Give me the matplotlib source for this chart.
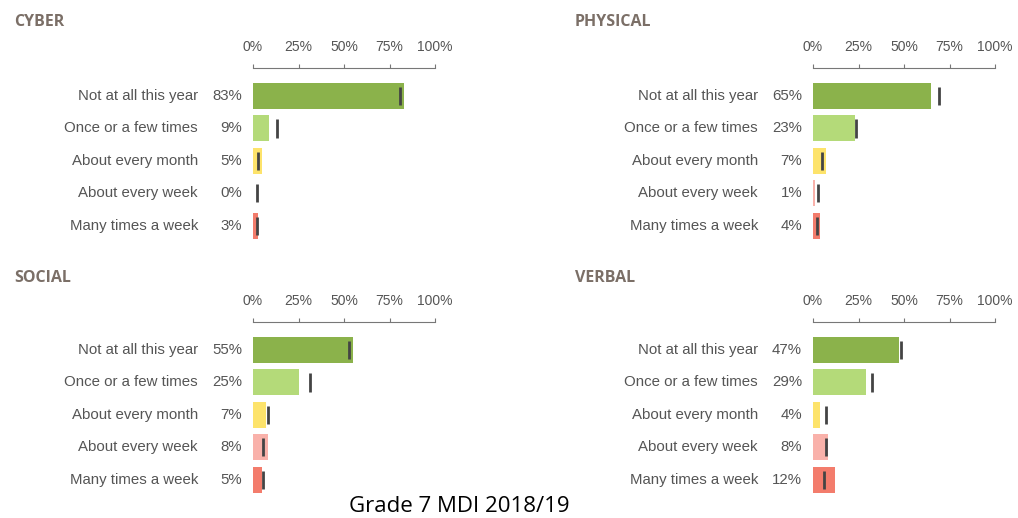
import numpy as np
import matplotlib
matplotlib.use('Agg')
import matplotlib.pyplot as plt

# Data
categories = ['Not at all this year', 'Once or a few times', 'About every month',
              'About every week', 'Many times a week']
panels = ['CYBER', 'PHYSICAL', 'SOCIAL', 'VERBAL']
cyber = [83, 9, 5, 0, 3]
physical = [65, 23, 7, 1, 4]
social = [55, 25, 7, 8, 5]
verbal = [47, 29, 4, 8, 12]
# comparison markers (black ticks)
cyber_cmp = [81, 13, 3, 2, 2]
physical_cmp = [69, 23.5, 5, 3, 2]
social_cmp = [52.5, 31.5, 8.5, 5.5, 5.5]
verbal_cmp = [48.5, 32.5, 7, 7, 6]
ticks = [0, 25, 50, 75, 100]
tick_labels = ['0%', '25%', '50%', '75%', '100%']

values = [cyber, physical, social, verbal]
compare = [cyber_cmp, physical_cmp, social_cmp, verbal_cmp]
colors = ['#8bb24b', '#b4da79', '#fde36b', '#f9b1aa', '#f37c6c']

W, H = 1018, 518
fig = plt.figure(figsize=(W / 100, H / 100), dpi=100)
plt.rcParams['font.family'] = ['Liberation Sans', 'DejaVu Sans']

# panel origins in pixels (x of 0%, y of axis line, y of title, x of title)
origins = [(253, 68, 22, 14), (813, 68, 22, 575), (253, 322, 278, 14), (813, 322, 278, 575)]
row_h = 32.5
ax_w = 182
ax_h = 28 + 4 * row_h + 16

for i, name in enumerate(panels):
    x0, ytop, ytitle, xtitle = origins[i]
    ax = fig.add_axes([x0 / W, 1 - (ytop + ax_h) / H, ax_w / W, ax_h / H])
    y = np.arange(len(categories))
    ax.barh(y, values[i], height=0.8, color=colors)
    ax.vlines(compare[i], y - 0.28, y + 0.28, color='#444444', lw=2)
    ax.set_xlim(0, 100)
    ax.set_ylim(4.5, -28 / row_h)
    for s in ['left', 'right', 'bottom']:
        ax.spines[s].set_visible(False)
    ax.spines['top'].set_color('#777777')
    ax.xaxis.tick_top()
    ax.set_xticks(ticks)
    ax.set_xticklabels(tick_labels)
    ax.tick_params(axis='x', direction='out', length=3, color='#777777',
                   labelsize=10, labelcolor='#555555', pad=7)
    ax.set_yticks([])
    for j, v in enumerate(values[i]):
        ax.annotate('%d%%' % v, xy=(0, j), xycoords=('axes fraction', 'data'),
                    xytext=(-11, 0), textcoords='offset pixels',
                    ha='right', va='center', fontsize=10.8, color='#555555')
        ax.annotate(categories[j], xy=(0, j), xycoords=('axes fraction', 'data'),
                    xytext=(-55, 0), textcoords='offset pixels',
                    ha='right', va='center', fontsize=10.8, color='#555555')
    fig.text(xtitle / W, 1 - ytitle / H, name, fontsize=11.5, fontweight='bold',
             color='#7b6f67', ha='left', va='center', family=['Open Sans', 'DejaVu Sans'])

fig.text(459 / W, 1 - 506 / H, 'Grade 7 MDI 2018/19', fontsize=16, color='black',
         ha='center', va='center', family=['Open Sans', 'DejaVu Sans'])

fig.savefig('out.png', dpi=100)
